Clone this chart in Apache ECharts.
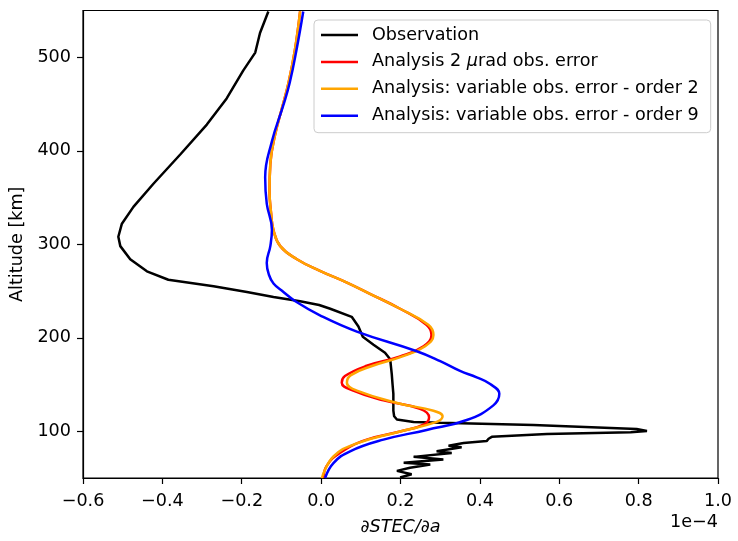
<!DOCTYPE html>
<html>
<head>
<meta charset="utf-8">
<script src="https://cdn.jsdelivr.net/npm/echarts@6/dist/echarts.min.js"></script>
<style>
  html, body { margin: 0; padding: 0; background: #ffffff; }
  #chart { width: 738px; height: 541px; }
</style>
</head>
<body>
<div id="chart"></div>
<script>
// Sensitivity profiles: dSTEC/da (units of 1e-4) against altitude (km)
const seriesNames = [
  'Observation',
  'Analysis 2 μrad obs. error',
  'Analysis: variable obs. error - order 2',
  'Analysis: variable obs. error - order 9'
];

// [dSTEC/da, altitude]
const observation = [
  [0.199, 50.5], [0.228, 54], [0.191, 57.6], [0.224, 61], [0.275, 64.5], [0.208, 66.3],
  [0.308, 69.8], [0.233, 72.6], [0.329, 76.8], [0.291, 78.6], [0.354, 82.8], [0.321, 84.5],
  [0.359, 87.4], [0.417, 89.5], [0.422, 92], [0.430, 94], [0.569, 97], [0.780, 99],
  [0.821, 100.2], [0.795, 102.5], [0.535, 106.6], [0.300, 109], [0.233, 110], [0.191, 112.6],
  [0.184, 116], [0.182, 122], [0.182, 140], [0.180, 150], [0.178, 161], [0.174, 177],
  [0.161, 184], [0.132, 192.6], [0.105, 201], [0.094, 212], [0.077, 222.4], [0.023, 231],
  [-0.005, 235], [-0.053, 239], [-0.120, 243.5], [-0.187, 249], [-0.271, 255], [-0.385, 262],
  [-0.439, 271], [-0.481, 284], [-0.506, 298], [-0.511, 308], [-0.502, 322], [-0.473, 340],
  [-0.422, 365], [-0.355, 396], [-0.288, 428], [-0.238, 456], [-0.196, 486], [-0.166, 505],
  [-0.154, 526], [-0.133, 549]
];

const analysis2urad = [
  [0.006, 50], [0.014, 63], [0.048, 77], [0.115, 91], [0.199, 99.7], [0.258, 107],
  [0.272, 115], [0.249, 124], [0.157, 133], [0.081, 143.5], [0.052, 152], [0.060, 159],
  [0.115, 170], [0.199, 180], [0.258, 191], [0.278, 203], [0.266, 213.7], [0.199, 231],
  [0.123, 247], [0.065, 259], [-0.003, 271.6], [-0.061, 284], [-0.103, 298], [-0.120, 315],
  [-0.126, 333], [-0.130, 357], [-0.128, 386], [-0.116, 417], [-0.099, 445], [-0.082, 473],
  [-0.066, 508], [-0.053, 549]
];

const variableOrder2 = [
  [0.002, 50], [0.031, 73], [0.090, 87], [0.199, 99.7], [0.291, 110], [0.306, 116],
  [0.283, 122], [0.199, 129.5], [0.090, 143.5], [0.065, 152], [0.075, 160], [0.130, 170],
  [0.205, 180], [0.262, 191], [0.283, 203], [0.270, 214], [0.199, 231],
  [0.123, 247], [0.065, 259], [-0.003, 271.6], [-0.061, 284], [-0.103, 298], [-0.120, 315],
  [-0.126, 333], [-0.130, 357], [-0.128, 386], [-0.116, 417], [-0.099, 445], [-0.082, 473],
  [-0.066, 508], [-0.053, 549]
];

const variableOrder9 = [
  [0.010, 50], [0.031, 66], [0.073, 78.6], [0.157, 91], [0.266, 101.4], [0.367, 112],
  [0.434, 127.7], [0.449, 140], [0.426, 150.5], [0.392, 157.6], [0.350, 164.5], [0.300, 175],
  [0.241, 185.6], [0.090, 206.6], [-0.003, 224], [-0.065, 239], [-0.095, 249], [-0.120, 258],
  [-0.132, 268], [-0.137, 280], [-0.128, 298], [-0.124, 315.5], [-0.137, 343.5],
  [-0.141, 371.6], [-0.124, 410], [-0.095, 449], [-0.079, 473], [-0.062, 508], [-0.045, 549]
];

const xTicks = { min: -0.6, max: 1.0, step: 0.2 };
const altitudeTicks = [100, 200, 300, 400, 500];

const FONT = 'DejaVu Sans';
const FS = 17.6;
const fmtMinus = (s) => s.replace('-', '\u2212');

const chart = echarts.init(document.getElementById('chart'), null, { renderer: 'canvas' });

const lineSeries = (name, data, color, smooth, z) => ({
  name, type: 'line', data, smooth, showSymbol: false, symbol: 'none',
  lineStyle: { color, width: 2.5 }, itemStyle: { color }, z, animation: false
});

chart.setOption({
  animation: false,
  backgroundColor: '#ffffff',
  grid: {
    left: 83, right: 20, top: 10.5, bottom: 55.5,
    show: true, borderColor: '#000000', borderWidth: 1.2, containLabel: false
  },
  xAxis: {
    type: 'value',
    min: xTicks.min, max: xTicks.max, interval: xTicks.step,
    name: '∂STEC/∂a', nameLocation: 'middle', nameGap: 40,
    nameTextStyle: { fontFamily: FONT, fontSize: FS, fontStyle: 'italic', color: '#000' },
    axisLine: { show: true, onZero: false, lineStyle: { color: '#000', width: 1.2 } },
    axisTick: { show: true, inside: false, length: 6, lineStyle: { color: '#000', width: 1.2 } },
    axisLabel: {
      margin: 14, fontFamily: FONT, fontSize: FS, color: '#000',
      formatter: (v) => fmtMinus(v.toFixed(1))
    },
    splitLine: { show: false }
  },
  yAxis: {
    type: 'value',
    min: 50, max: 550,
    name: 'Altitude [km]', nameLocation: 'middle', nameGap: 49,
    nameTextStyle: { fontFamily: FONT, fontSize: FS, color: '#000' },
    axisLine: { show: true, onZero: false, lineStyle: { color: '#000', width: 1.2 } },
    axisTick: { show: true, inside: false, length: 6, customValues: altitudeTicks,
      lineStyle: { color: '#000', width: 1.2 } },
    axisLabel: {
      margin: 12, fontFamily: FONT, fontSize: FS, color: '#000',
      customValues: altitudeTicks,
      formatter: (v) => String(Math.round(v))
    },
    splitLine: { show: false }
  },
  legend: {
    data: seriesNames,
    orient: 'vertical',
    left: 314, top: 20,
    padding: [5, 12, 7, 7],
    itemGap: 6.9,
    itemWidth: 37, itemHeight: 2.5,
    icon: 'rect',
    backgroundColor: 'rgba(255,255,255,0.8)',
    borderColor: '#cccccc', borderWidth: 1, borderRadius: 4,
    formatter: (name) => name.indexOf('μ') >= 0 ? name.replace('μ', '{i|μ}') : name,
    textStyle: {
      fontFamily: FONT, fontSize: FS, color: '#000', lineHeight: 20,
      padding: [0, 0, 0, 9],
      rich: { i: { fontFamily: FONT, fontSize: FS, fontStyle: 'italic', color: '#000', lineHeight: 20 } }
    }
  },
  graphic: [{
    type: 'text', right: 20, top: 513,
    style: { text: '1e\u22124', font: FS + 'px "DejaVu Sans"', fill: '#000' }
  }],
  series: [
    lineSeries(seriesNames[0], observation, '#000000', false, 2),
    lineSeries(seriesNames[1], analysis2urad, '#ff0000', 0.45, 3),
    lineSeries(seriesNames[2], variableOrder2, '#ffa500', 0.45, 4),
    lineSeries(seriesNames[3], variableOrder9, '#0000ff', 0.45, 5)
  ]
});
</script>
</body>
</html>
